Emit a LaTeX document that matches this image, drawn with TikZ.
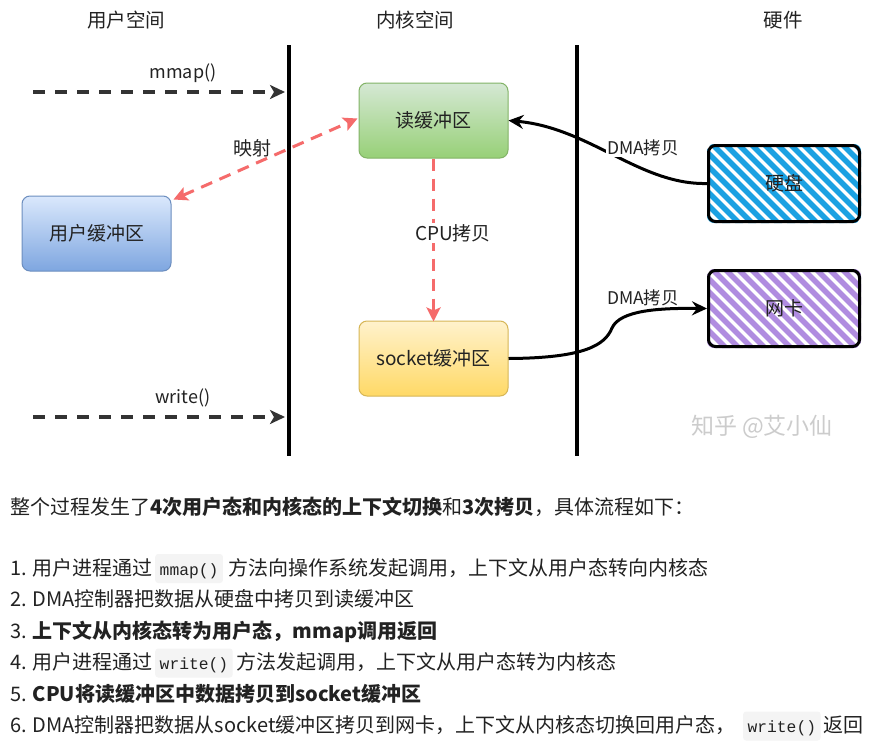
\documentclass[tikz,border=0pt]{standalone}
\usepackage{fontspec}
\setmainfont{Noto Sans CJK SC}
\setmonofont{Liberation Mono}
\usetikzlibrary{arrows.meta}
\definecolor{ink}{HTML}{222222}
\definecolor{arrowgray}{HTML}{333333}
\definecolor{redline}{HTML}{F56B6B}
\definecolor{hatchblue}{HTML}{1BA1E2}
\definecolor{hatchpurple}{HTML}{B08CE0}
\definecolor{codebg}{HTML}{F4F4F4}
\definecolor{wmgray}{HTML}{CCCCCC}
\pgfdeclarelayer{base}
\pgfdeclarelayer{bg}
\pgfsetlayers{base,bg,main}
\begin{document}
\begin{tikzpicture}[x=1pt,y=-1pt,
  title/.style={font=\fontsize{19.5pt}{22pt}\selectfont, text=ink, inner sep=0pt},
  lbl/.style={font=\fontsize{18pt}{21pt}\selectfont, text=ink, inner sep=1pt},
  buf/.style={draw, rounded corners=8pt, minimum width=149pt, minimum height=75pt,
    font=\fontsize{19pt}{22pt}\selectfont, text=ink, line width=1pt},
  hwbox/.style={draw=black, line width=3pt, rounded corners=7pt, minimum width=151pt, minimum height=76pt,
    font=\fontsize{19pt}{22pt}\selectfont, text=ink},
  vline/.style={line width=4pt, black},
  callarrow/.style={line width=3.5pt, arrowgray, dash pattern=on 12pt off 10pt,
    -{Stealth[length=15pt,width=14pt,inset=4pt]}},
  redarrow/.style={line width=3pt, redline, dash pattern=on 12pt off 8pt},
  dmaarrow/.style={line width=3pt, black, -{Stealth[length=15pt,width=14pt,inset=5pt]}},
  stripe/.style={line width=5.5pt},
  txt/.style={anchor=base west, inner sep=0pt, font=\fontsize{20pt}{24pt}\selectfont, text=ink},
  code/.style={anchor=base west, fill=codebg, rounded corners=3pt, inner xsep=4.5pt, inner ysep=0pt,
    text height=21pt, text depth=8pt, font=\ttfamily\fontsize{16.3pt}{19pt}\selectfont, text=ink}
]
\useasboundingbox (0,0) rectangle (883,742);
\begin{pgfonlayer}{base}
  \fill[white] (0,0) rectangle (883,742);
\end{pgfonlayer}

% column titles
\node[title] (t1) at (126,20) {用户空间};
\node[title] (t2) at (415,20) {内核空间};
\node[title] (t3) at (783,20) {硬件};

% separators
\coordinate (v1t) at (289,45); \coordinate (v1b) at (289,456);
\coordinate (v2t) at (577,45); \coordinate (v2b) at (577,456);
\draw[vline] (v1t) -- (v1b);
\draw[vline] (v2t) -- (v2b);

% buffers
\node[buf, draw={rgb,255:red,130;green,179;blue,102}, top color={rgb,255:red,213;green,232;blue,212},
  bottom color={rgb,255:red,151;green,208;blue,119}] (rb) at (433.5,120.5) {读缓冲区};
\node[buf, draw={rgb,255:red,108;green,142;blue,191}, top color={rgb,255:red,218;green,232;blue,252},
  bottom color={rgb,255:red,126;green,166;blue,224}] (ub) at (96.5,233.5) {用户缓冲区};
\node[buf, draw={rgb,255:red,214;green,182;blue,86}, top color={rgb,255:red,255;green,242;blue,204},
  bottom color={rgb,255:red,255;green,217;blue,102}] (sb) at (433.5,358.5) {socket缓冲区};

% hardware
\node[hwbox] (hd) at (784,183.5) {硬盘};
\node[hwbox] (nk) at (784,308.5) {网卡};
\begin{pgfonlayer}{bg}
  \begin{scope}
    \clip[rounded corners=7pt] (hd.south west) rectangle (hd.north east);
    \foreach \i in {-8,...,13} \draw[stripe, hatchblue] ({708+\i*13},140) -- ++(90,90);
  \end{scope}
  \begin{scope}
    \clip[rounded corners=7pt] (nk.south west) rectangle (nk.north east);
    \foreach \i in {-8,...,13} \draw[stripe, hatchpurple] ({708+\i*13},265) -- ++(90,90);
  \end{scope}
\end{pgfonlayer}

% system calls
\coordinate (m1s) at (33,92); \coordinate (m1e) at (285,92);
\coordinate (w1s) at (33,417); \coordinate (w1e) at (285,417);
\draw[callarrow] (m1s) -- (m1e);
\draw[callarrow] (w1s) -- (w1e);
\node[lbl] (lm) at (183,73) {mmap()};
\node[lbl] (lw) at (183,398) {write()};

% mapping
\draw[redarrow, {Stealth[length=14pt,width=14pt,inset=3pt]}-{Stealth[length=14pt,width=14pt,inset=3pt]}]
  ([shift={(2,4)}]ub.north east) -- ([xshift=-1,yshift=2]rb.west);
\node[lbl, font=\fontsize{19pt}{22pt}\selectfont] (lmap) at (252,148) {映射};

% CPU copy
\draw[redarrow, -{Stealth[length=14pt,width=14pt,inset=3pt]}] (rb.south) -- ([yshift=-1]sb.north);
\node[lbl, fill=white, font=\fontsize{19pt}{22pt}\selectfont] (lcpu) at (453,233) {CPU拷贝};

% DMA copies
\draw[dmaarrow] (hd.west) .. controls (640,185) and (590,128) .. (rb.east);
\node[lbl, fill=white, font=\fontsize{17.5pt}{20pt}\selectfont] (ld1) at (643,148) {DMA拷贝};
\draw[dmaarrow] (sb.east) .. controls (585,358) and (605,345) .. (612,328)
  .. controls (620,310) and (660,308) .. (nk.west);
\node[lbl, font=\fontsize{17.5pt}{20pt}\selectfont] (ld2) at (643,298) {DMA拷贝};

% watermark
\node[font=\fontsize{23pt}{26pt}\selectfont, text=wmgray, inner sep=0pt] (wm) at (762,427) {知乎 @艾小仙};

% text below
\node[txt] (p0) at (10,514) {整个过程发生了\textbf{4次用户态和内核态的上下文切换}和\textbf{3次拷贝}，具体流程如下：};

\node[txt] (p1a) at (10,575) {1. 用户进程通过};
\node[code] (p1b) at ([xshift=2pt]p1a.base east) {mmap()};
\node[txt] (p1c) at ([xshift=5pt]p1b.base east) {方法向操作系统发起调用，上下文从用户态转向内核态};

\node[txt] (p2) at (10,606.5) {2. DMA控制器把数据从硬盘中拷贝到读缓冲区};

\node[txt] (p3) at (10,638) {3. \textbf{上下文从内核态转为用户态，mmap调用返回}};

\node[txt] (p4a) at (10,669.5) {4. 用户进程通过};
\node[code] (p4b) at ([xshift=2pt]p4a.base east) {write()};
\node[txt] (p4c) at ([xshift=3pt]p4b.base east) {方法发起调用，上下文从用户态转为内核态};

\node[txt] (p5) at (10,701) {5. \textbf{CPU将读缓冲区中数据拷贝到socket缓冲区}};

\node[txt] (p6a) at (10,732.5) {6. DMA控制器把数据从socket缓冲区拷贝到网卡，上下文从内核态切换回用户态，};
\node[code] (p6b) at ([xshift=7pt]p6a.base east) {write()};
\node[txt] (p6c) at ([xshift=3pt]p6b.base east) {返回};
\end{tikzpicture}
\end{document}
